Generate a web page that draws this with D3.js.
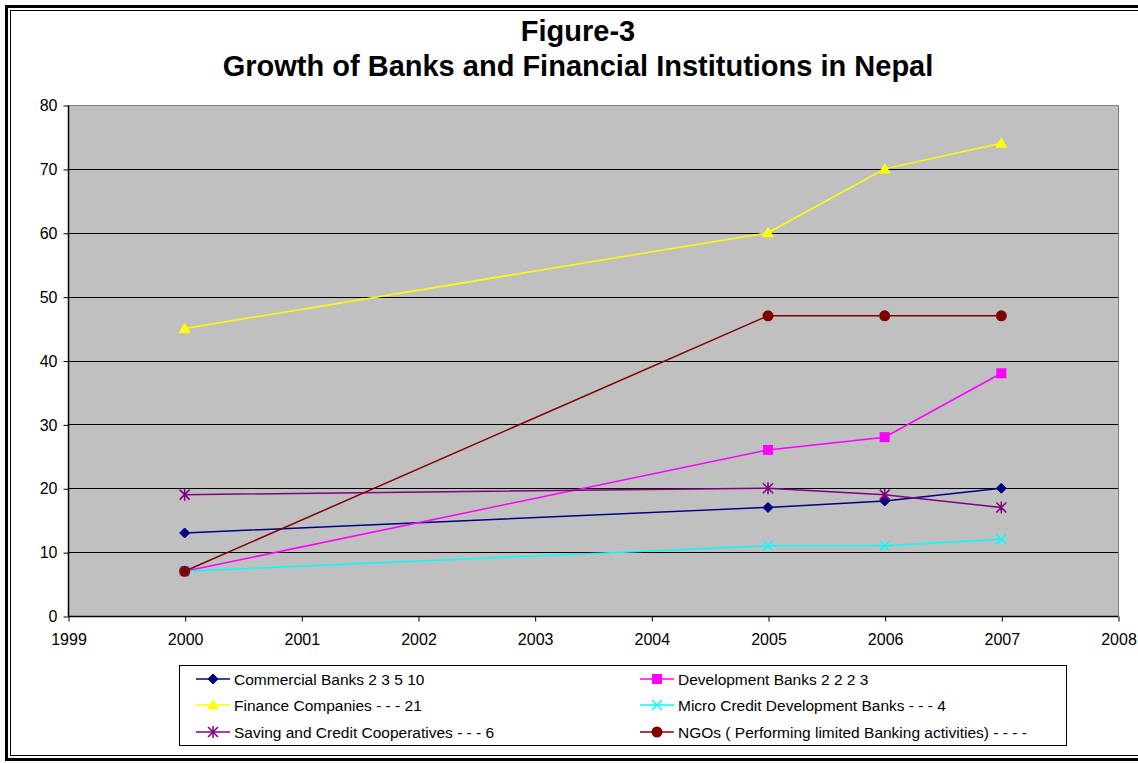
<!DOCTYPE html>
<html>
<head>
<meta charset="utf-8">
<script src="https://cdn.jsdelivr.net/npm/d3@7"></script>
<style>
  body { margin: 0; background: #fff; }
  text { font-family: Arial, "Liberation Sans", sans-serif; }
</style>
</head>
<body>
<svg id="chart" width="1138" height="763"></svg>
<script>
// data
var years = [2000, 2005, 2006, 2007];
var commercial = [13, 17, 18, 20];
var development = [7, 26, 28, 38];
var finance = [45, 60, 70, 74];
var micro = [7, 11, 11, 12];
var saving = [19, 20, 19, 17];
var ngos = [7, 47, 47, 47];

var seriesNames = ["Commercial Banks 2 3 5 10", "Development Banks 2 2 2 3",
                   "Finance Companies - - - 21", "Micro Credit Development Banks - - - 4",
                   "Saving and Credit Cooperatives - - - 6", "NGOs ( Performing limited Banking activities) - - - -"];
var seriesValues = [commercial, development, finance, micro, saving, ngos];
var seriesColors = ["#000080", "#FF00FF", "#FFFF00", "#00FFFF", "#800080", "#800000"];
var seriesMarkers = ["diamond", "square", "triangle", "x", "star", "circle"];

var xTicks = [1999, 2000, 2001, 2002, 2003, 2004, 2005, 2006, 2007, 2008];
var yTicks = [0, 10, 20, 30, 40, 50, 60, 70, 80];

var svg = d3.select("#chart");

// double frame around the whole figure
svg.append("rect").attr("x", 6.5).attr("y", 6.5).attr("width", 1140).attr("height", 753)
   .attr("fill", "none").attr("stroke", "#000").attr("stroke-width", 3);
svg.append("rect").attr("x", 10.5).attr("y", 10.5).attr("width", 1140).attr("height", 745)
   .attr("fill", "none").attr("stroke", "#000").attr("stroke-width", 1);

var pLeft = 68, pRight = 1118, pTop = 105, pBottom = 616;

var x = d3.scaleLinear().domain([1999, 2008]).range([pLeft, pRight]);
var y = d3.scaleLinear().domain([0, 80]).range([pBottom, pTop]);

// title
svg.append("text").attr("x", 578).attr("y", 41).attr("text-anchor", "middle")
   .attr("font-size", 29).attr("font-weight", "bold").text("Figure-3");
svg.append("text").attr("x", 578).attr("y", 76).attr("text-anchor", "middle")
   .attr("font-size", 29).attr("font-weight", "bold")
   .text("Growth of Banks and Financial Institutions in Nepal");

// plot area
svg.append("rect").attr("x", pLeft).attr("y", pTop).attr("width", pRight - pLeft).attr("height", pBottom - pTop)
   .attr("fill", "#C0C0C0");

// gridlines
svg.append("g").selectAll("line").data(yTicks.filter(function(d) { return d > 0; }))
   .enter().append("line")
   .attr("x1", pLeft).attr("x2", pRight)
   .attr("y1", function(d) { return Math.round(y(d)) + 0.5; })
   .attr("y2", function(d) { return Math.round(y(d)) + 0.5; })
   .attr("stroke", function(d) { return d == 80 ? "#808080" : "#000"; })
   .attr("stroke-width", 1);
// right border
svg.append("line").attr("x1", pRight + 0.5).attr("x2", pRight + 0.5).attr("y1", pTop).attr("y2", pBottom)
   .attr("stroke", "#808080");

// axes
var yAxis = d3.axisLeft(y).tickValues(yTicks).tickSize(5).tickPadding(6);
var gy = svg.append("g").attr("transform", "translate(" + (pLeft + 0.5) + ",0.5)").call(yAxis);
var xAxis = d3.axisBottom(x).tickValues(xTicks).tickFormat(d3.format("d")).tickSize(5).tickPadding(12);
var gx = svg.append("g").attr("transform", "translate(0.5," + (pBottom + 0.5) + ")").call(xAxis);
[gy, gx].forEach(function(g) {
    g.select(".domain").attr("stroke", "#000").attr("stroke-width", 1.5);
    g.selectAll(".tick line").attr("stroke", "#000");
    g.selectAll(".tick text").attr("font-size", 16).attr("fill", "#000")
     .attr("font-family", "Arial, 'Liberation Sans', sans-serif");
});
gy.select(".domain").attr("d", "M0," + y(0) + "V" + y(80));
gx.select(".domain").attr("d", "M" + x(1999) + ",0H" + x(2008));

// marker drawing helper
function drawMarker(g, type, color, cx, cy) {
    if (type == "diamond") {
        g.append("path").attr("d", "M" + cx + "," + (cy - 5) + "L" + (cx + 5) + "," + cy + "L" + cx + "," + (cy + 5) + "L" + (cx - 5) + "," + cy + "Z")
         .attr("fill", color).attr("stroke", color);
    } else if (type == "square") {
        g.append("rect").attr("x", cx - 5).attr("y", cy - 5).attr("width", 10).attr("height", 10)
         .attr("fill", color);
    } else if (type == "triangle") {
        g.append("path").attr("d", "M" + cx + "," + (cy - 6) + "L" + (cx + 6) + "," + (cy + 4.5) + "L" + (cx - 6) + "," + (cy + 4.5) + "Z")
         .attr("fill", color);
    } else if (type == "x") {
        g.append("path").attr("d", "M" + (cx - 5) + "," + (cy - 5) + "L" + (cx + 5) + "," + (cy + 5) + "M" + (cx + 5) + "," + (cy - 5) + "L" + (cx - 5) + "," + (cy + 5))
         .attr("stroke", color).attr("stroke-width", 1.5);
    } else if (type == "star") {
        g.append("path").attr("d", "M" + (cx - 5) + "," + (cy - 5) + "L" + (cx + 5) + "," + (cy + 5) + "M" + (cx + 5) + "," + (cy - 5) + "L" + (cx - 5) + "," + (cy + 5) + "M" + cx + "," + (cy - 6) + "V" + (cy + 6))
         .attr("stroke", color).attr("stroke-width", 1.5);
    } else if (type == "circle") {
        g.append("circle").attr("cx", cx).attr("cy", cy).attr("r", 5.5).attr("fill", color);
    }
}

var line = d3.line().x(function(d) { return x(d[0]); }).y(function(d) { return y(d[1]); });

// draw series in order (NGO on top)
seriesValues.forEach(function(vals, i) {
    var pts = years.map(function(yr, j) { return [yr, vals[j]]; });
    var g = svg.append("g").attr("class", "series");
    g.append("path").datum(pts).attr("d", line).attr("fill", "none")
     .attr("stroke", seriesColors[i]).attr("stroke-width", 1.5);
    pts.forEach(function(p) {
        drawMarker(g, seriesMarkers[i], seriesColors[i], x(p[0]), y(p[1]));
    });
});

// legend
var legend = svg.append("g");
legend.append("rect").attr("x", 179.5).attr("y", 665.5).attr("width", 887).attr("height", 80)
      .attr("fill", "#fff").attr("stroke", "#000").attr("stroke-width", 1);
var colX = [196, 640];
var rowY = [679, 705, 732];
seriesNames.forEach(function(name, i) {
    var lx = colX[i % 2], ly = rowY[Math.floor(i / 2)];
    var g = legend.append("g");
    g.append("line").attr("x1", lx).attr("x2", lx + 34).attr("y1", ly).attr("y2", ly)
     .attr("stroke", seriesColors[i]).attr("stroke-width", 1.5);
    drawMarker(g, seriesMarkers[i], seriesColors[i], lx + 17, ly);
    g.append("text").attr("x", lx + 38).attr("y", ly + 5.5).attr("font-size", 15.5).text(name);
});
</script>
</body>
</html>
